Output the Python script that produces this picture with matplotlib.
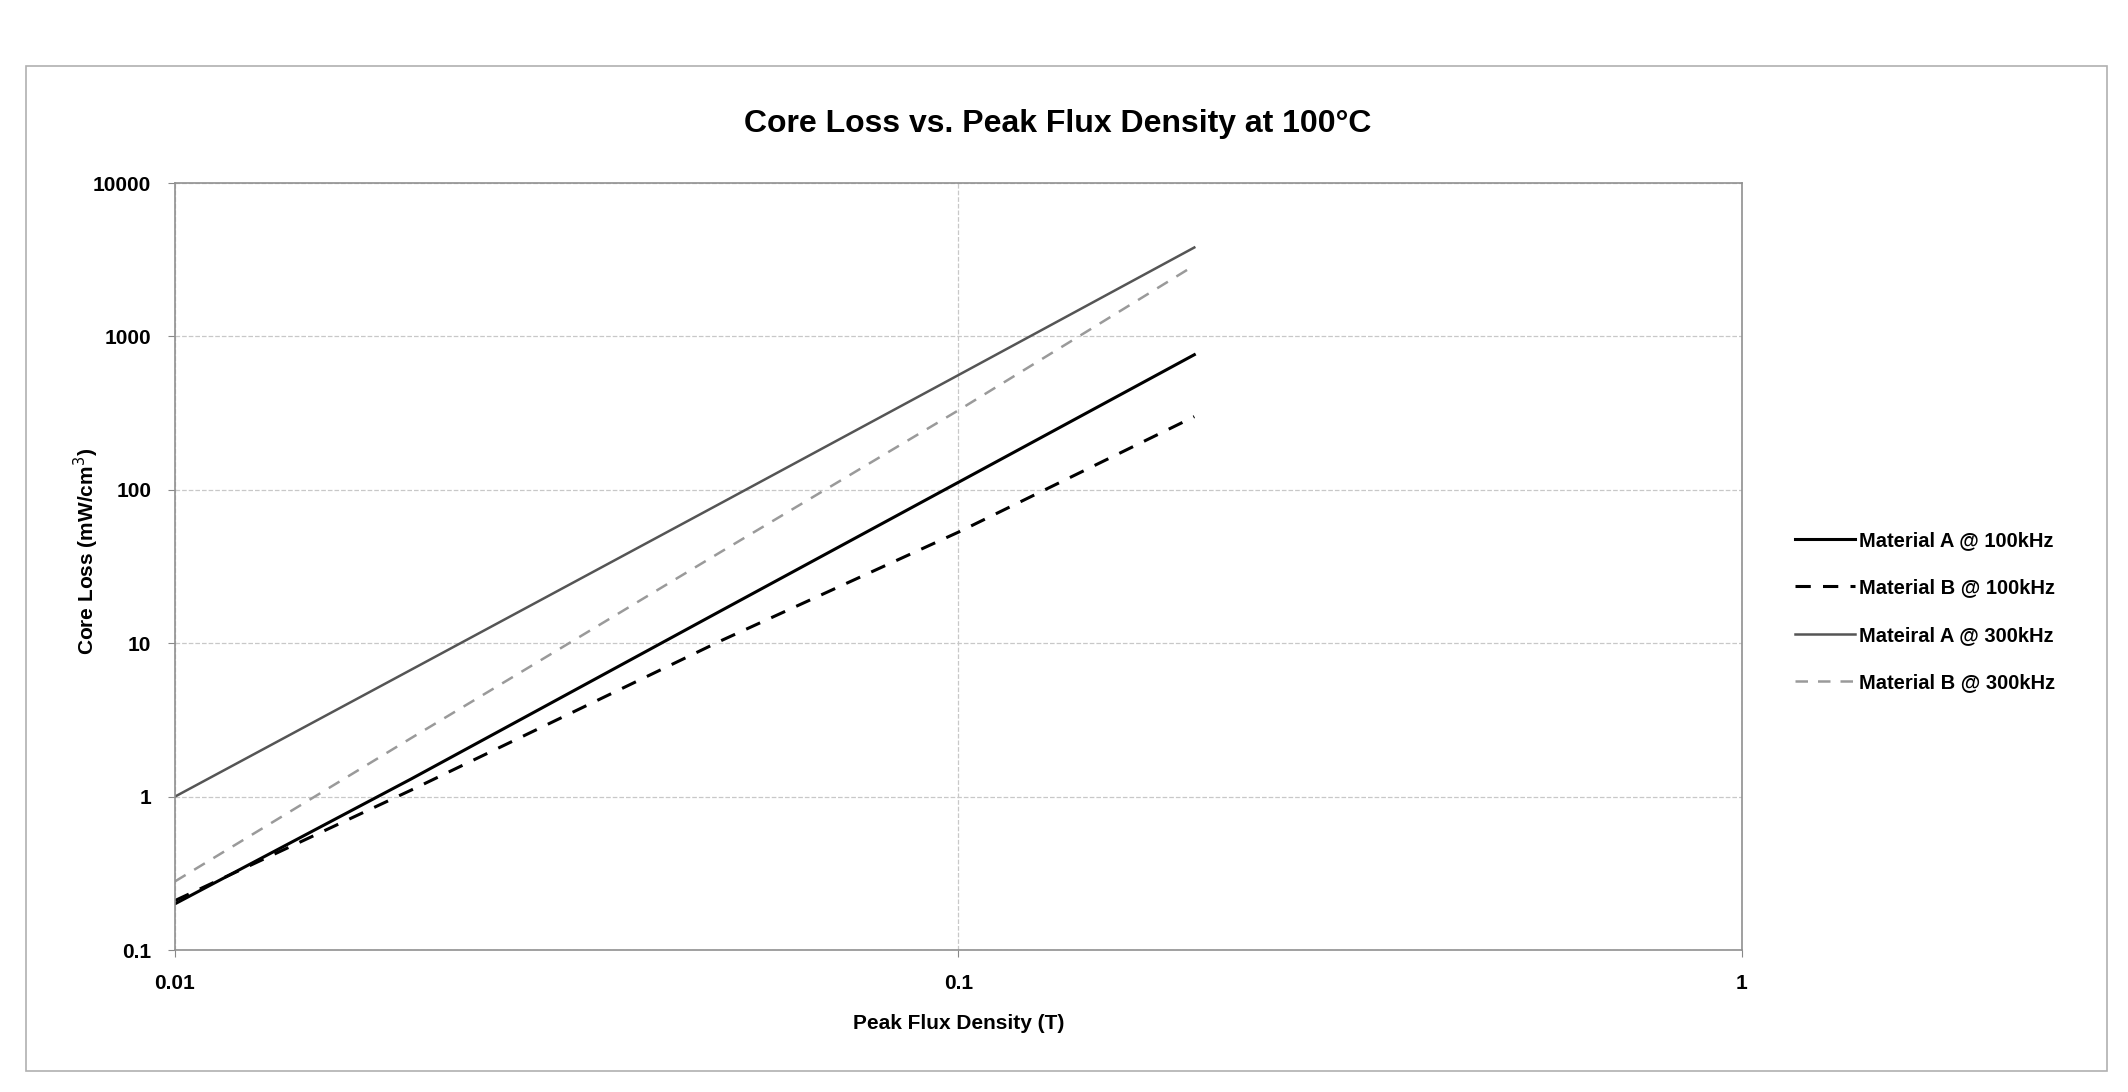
import matplotlib
matplotlib.use("Agg")
import matplotlib.pyplot as plt
from matplotlib.patches import Rectangle

plt.rcParams['font.family'] = ['Liberation Sans', 'DejaVu Sans']

# flux density points (T)
flux = [0.01, 0.02, 0.05, 0.1, 0.2]

# core loss (mW/cm^3) read at those points
mat_a_100k = [0.2, 1.3, 16.5, 112, 760]
mat_b_100k = [0.21, 1.1, 10.5, 53, 300]
mat_a_300k = [1.0, 6.7, 83, 560, 3800]
mat_b_300k = [0.28, 2.4, 40, 330, 2900]

series_names = ["Material A @ 100kHz", "Material B @ 100kHz",
                "Mateiral A @ 300kHz", "Material B @ 300kHz"]

x_ticks = [0.01, 0.1, 1]
x_tick_labels = ["0.01", "0.1", "1"]
y_ticks = [0.1, 1, 10, 100, 1000, 10000]
y_tick_labels = ["0.1", "1", "10", "100", "1000", "10000"]

fig = plt.figure(figsize=(21.28, 10.92), dpi=100)

# chart area border
fig.patches.append(Rectangle((0.012, 0.019), 0.978, 0.921, transform=fig.transFigure,
                             fill=False, edgecolor="#b0b0b0", linewidth=1.2))

ax = fig.add_axes([0.0822, 0.130, 0.7364, 0.7024])

ax.plot(flux, mat_a_100k, color="black", linewidth=2.2, label=series_names[0])
ax.plot(flux, mat_b_100k, color="black", linewidth=2.2, dashes=[5, 4], label=series_names[1])
ax.plot(flux, mat_a_300k, color="#555555", linewidth=1.8, label=series_names[2])
ax.plot(flux, mat_b_300k, color="#9a9a9a", linewidth=1.8, dashes=[5, 4], label=series_names[3])

ax.set_xscale("log")
ax.set_yscale("log")
ax.set_xlim(0.01, 1)
ax.set_ylim(0.1, 10000)

ax.set_xticks(x_ticks)
ax.set_xticklabels(x_tick_labels)
ax.set_yticks(y_ticks)
ax.set_yticklabels(y_tick_labels)
ax.minorticks_off()
ax.tick_params(axis="both", labelsize=15, length=5, color="#888888")
ax.tick_params(axis="y", pad=12)
ax.tick_params(axis="x", pad=12)
for lbl in ax.get_xticklabels() + ax.get_yticklabels():
    lbl.set_fontweight("bold")

ax.grid(True, which="major", color="#c8c8c8", linestyle="--", linewidth=0.9)
for s in ax.spines.values():
    s.set_color("#909090")
    s.set_linewidth(1.2)

ax.set_xlabel("Peak Flux Density (T)", fontsize=15, fontweight="bold")
ax.xaxis.set_label_coords(0.5, -0.083)
ax.set_ylabel("Core Loss (mW/cm$^3$)", fontsize=15, fontweight="bold")
ax.yaxis.set_label_coords(-0.047, 0.52)

fig.text(0.497, 0.886, "Core Loss vs. Peak Flux Density at 100\u00b0C",
         ha="center", va="center", fontsize=23, fontweight="bold")

leg = ax.legend(loc="center left", bbox_to_anchor=(0.835, 0.44),
                bbox_transform=fig.transFigure, frameon=False,
                prop={"size": 14.5, "weight": "bold"},
                handlelength=3.0, handletextpad=0.2, labelspacing=1.4)

fig.savefig("out.png", dpi=100)
